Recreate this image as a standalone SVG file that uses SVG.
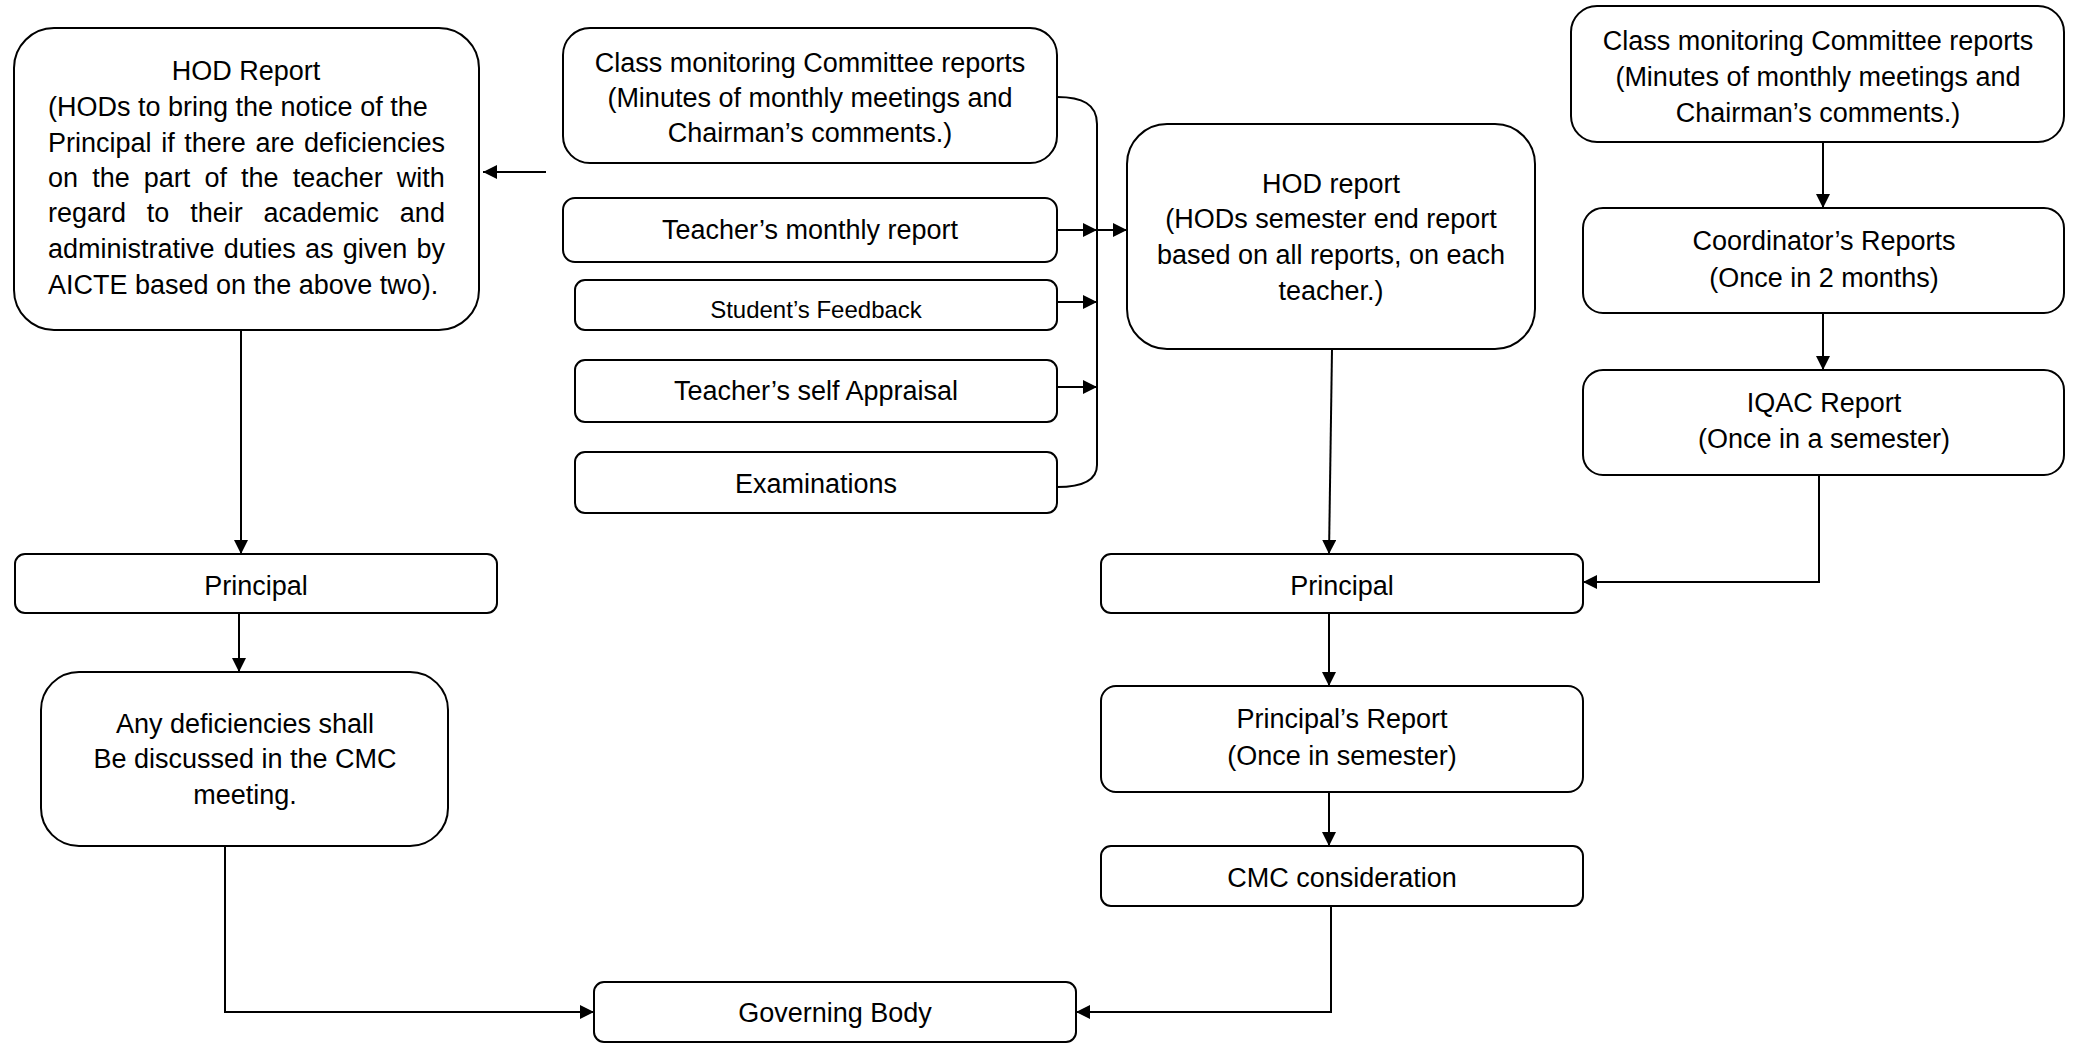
<svg xmlns="http://www.w3.org/2000/svg" width="2075" height="1043" viewBox="0 0 2075 1043">
<style>
.box{fill:#fff;stroke:#000;stroke-width:2}
.t{font-family:"Liberation Sans",Arial,sans-serif;font-size:27px;fill:#000}
.s{font-size:24px}
.c{text-anchor:middle}
.conn path{fill:none;stroke:#000;stroke-width:2}
</style>
<defs>
<marker id="ah" markerWidth="14" markerHeight="14" refX="14" refY="7" orient="auto" markerUnits="userSpaceOnUse"><path d="M0,0 L14,7 L0,14 z" fill="#000"/></marker>
</defs>
<rect width="2075" height="1043" fill="#fff"/>

<g id="hod-report-left">
<rect class="box" x="14" y="28" width="465" height="302" rx="40"/>
<text class="t c" x="246" y="80">HOD Report</text>
<text class="t" x="48" y="116">(HODs to bring the notice of the</text>
<text class="t" x="48" y="152" word-spacing="2.1">Principal if there are deficiencies</text>
<text class="t" x="48" y="187" word-spacing="6.6">on the part of the teacher with</text>
<text class="t" x="48" y="222" word-spacing="13.3">regard to their academic and</text>
<text class="t" x="48" y="258" word-spacing="1.7">administrative duties as given by</text>
<text class="t" x="48" y="294">AICTE based on the above two).</text>
</g>

<g id="principal-left">
<rect class="box" x="15" y="554" width="482" height="59" rx="10"/>
<text class="t c" x="256" y="595">Principal</text>
</g>

<g id="deficiencies">
<rect class="box" x="41" y="672" width="407" height="174" rx="38"/>
<text class="t c" x="245" y="733">Any deficiencies shall</text>
<text class="t c" x="245" y="768">Be discussed in the CMC</text>
<text class="t c" x="245" y="804">meeting.</text>
</g>

<g id="cmc-reports-mid">
<rect class="box" x="563" y="28" width="494" height="135" rx="27"/>
<text class="t c" x="810" y="72">Class monitoring Committee reports</text>
<text class="t c" x="810" y="107">(Minutes of monthly meetings and</text>
<text class="t c" x="810" y="142">Chairman’s comments.)</text>
</g>

<g id="teacher-monthly">
<rect class="box" x="563" y="198" width="494" height="64" rx="12"/>
<text class="t c" x="810" y="239">Teacher’s monthly report</text>
</g>

<g id="student-feedback">
<rect class="box" x="575" y="280" width="482" height="50" rx="10"/>
<text class="t s c" x="816" y="318">Student’s Feedback</text>
</g>

<g id="self-appraisal">
<rect class="box" x="575" y="360" width="482" height="62" rx="10"/>
<text class="t c" x="816" y="400">Teacher’s self Appraisal</text>
</g>

<g id="examinations">
<rect class="box" x="575" y="452" width="482" height="61" rx="10"/>
<text class="t c" x="816" y="493">Examinations</text>
</g>

<g id="hod-report-mid">
<rect class="box" x="1127" y="124" width="408" height="225" rx="40"/>
<text class="t c" x="1331" y="193">HOD report</text>
<text class="t c" x="1331" y="228">(HODs semester end report</text>
<text class="t c" x="1331" y="264">based on all reports, on each</text>
<text class="t c" x="1331" y="300">teacher.)</text>
</g>

<g id="principal-right">
<rect class="box" x="1101" y="554" width="482" height="59" rx="10"/>
<text class="t c" x="1342" y="595">Principal</text>
</g>

<g id="principal-report">
<rect class="box" x="1101" y="686" width="482" height="106" rx="15"/>
<text class="t c" x="1342" y="728">Principal’s Report</text>
<text class="t c" x="1342" y="765">(Once in semester)</text>
</g>

<g id="cmc-consideration">
<rect class="box" x="1101" y="846" width="482" height="60" rx="10"/>
<text class="t c" x="1342" y="887">CMC consideration</text>
</g>

<g id="governing-body">
<rect class="box" x="594" y="982" width="482" height="60" rx="10"/>
<text class="t c" x="835" y="1022">Governing Body</text>
</g>

<g id="cmc-reports-right">
<rect class="box" x="1571" y="6" width="493" height="136" rx="26"/>
<text class="t c" x="1818" y="50">Class monitoring Committee reports</text>
<text class="t c" x="1818" y="86">(Minutes of monthly meetings and</text>
<text class="t c" x="1818" y="122">Chairman’s comments.)</text>
</g>

<g id="coordinator">
<rect class="box" x="1583" y="208" width="481" height="105" rx="20"/>
<text class="t c" x="1824" y="250">Coordinator’s Reports</text>
<text class="t c" x="1824" y="287">(Once in 2 months)</text>
</g>

<g id="iqac">
<rect class="box" x="1583" y="370" width="481" height="105" rx="20"/>
<text class="t c" x="1824" y="412">IQAC Report</text>
<text class="t c" x="1824" y="448">(Once in a semester)</text>
</g>

<g id="connectors" class="conn">
<path d="M546,172 H483" marker-end="url(#ah)"/>
<path d="M241,330 V554" marker-end="url(#ah)"/>
<path d="M239,613 V672" marker-end="url(#ah)"/>
<path d="M225,846 V1012 H594" marker-end="url(#ah)"/>
<path d="M1057,97 C1082,97 1097,104 1097,124 V465 C1097,481 1082,487 1057,487"/>
<path d="M1057,230 H1097" marker-end="url(#ah)"/>
<path d="M1097,230 H1127" marker-end="url(#ah)"/>
<path d="M1057,302 H1097" marker-end="url(#ah)"/>
<path d="M1057,387 H1097" marker-end="url(#ah)"/>
<path d="M1332,349 L1329,554" marker-end="url(#ah)"/>
<path d="M1329,613 V686" marker-end="url(#ah)"/>
<path d="M1329,792 V846" marker-end="url(#ah)"/>
<path d="M1331,906 V1012 H1076" marker-end="url(#ah)"/>
<path d="M1823,142 V208" marker-end="url(#ah)"/>
<path d="M1823,313 V370" marker-end="url(#ah)"/>
<path d="M1819,475 V582 H1583" marker-end="url(#ah)"/>
</g>
</svg>
